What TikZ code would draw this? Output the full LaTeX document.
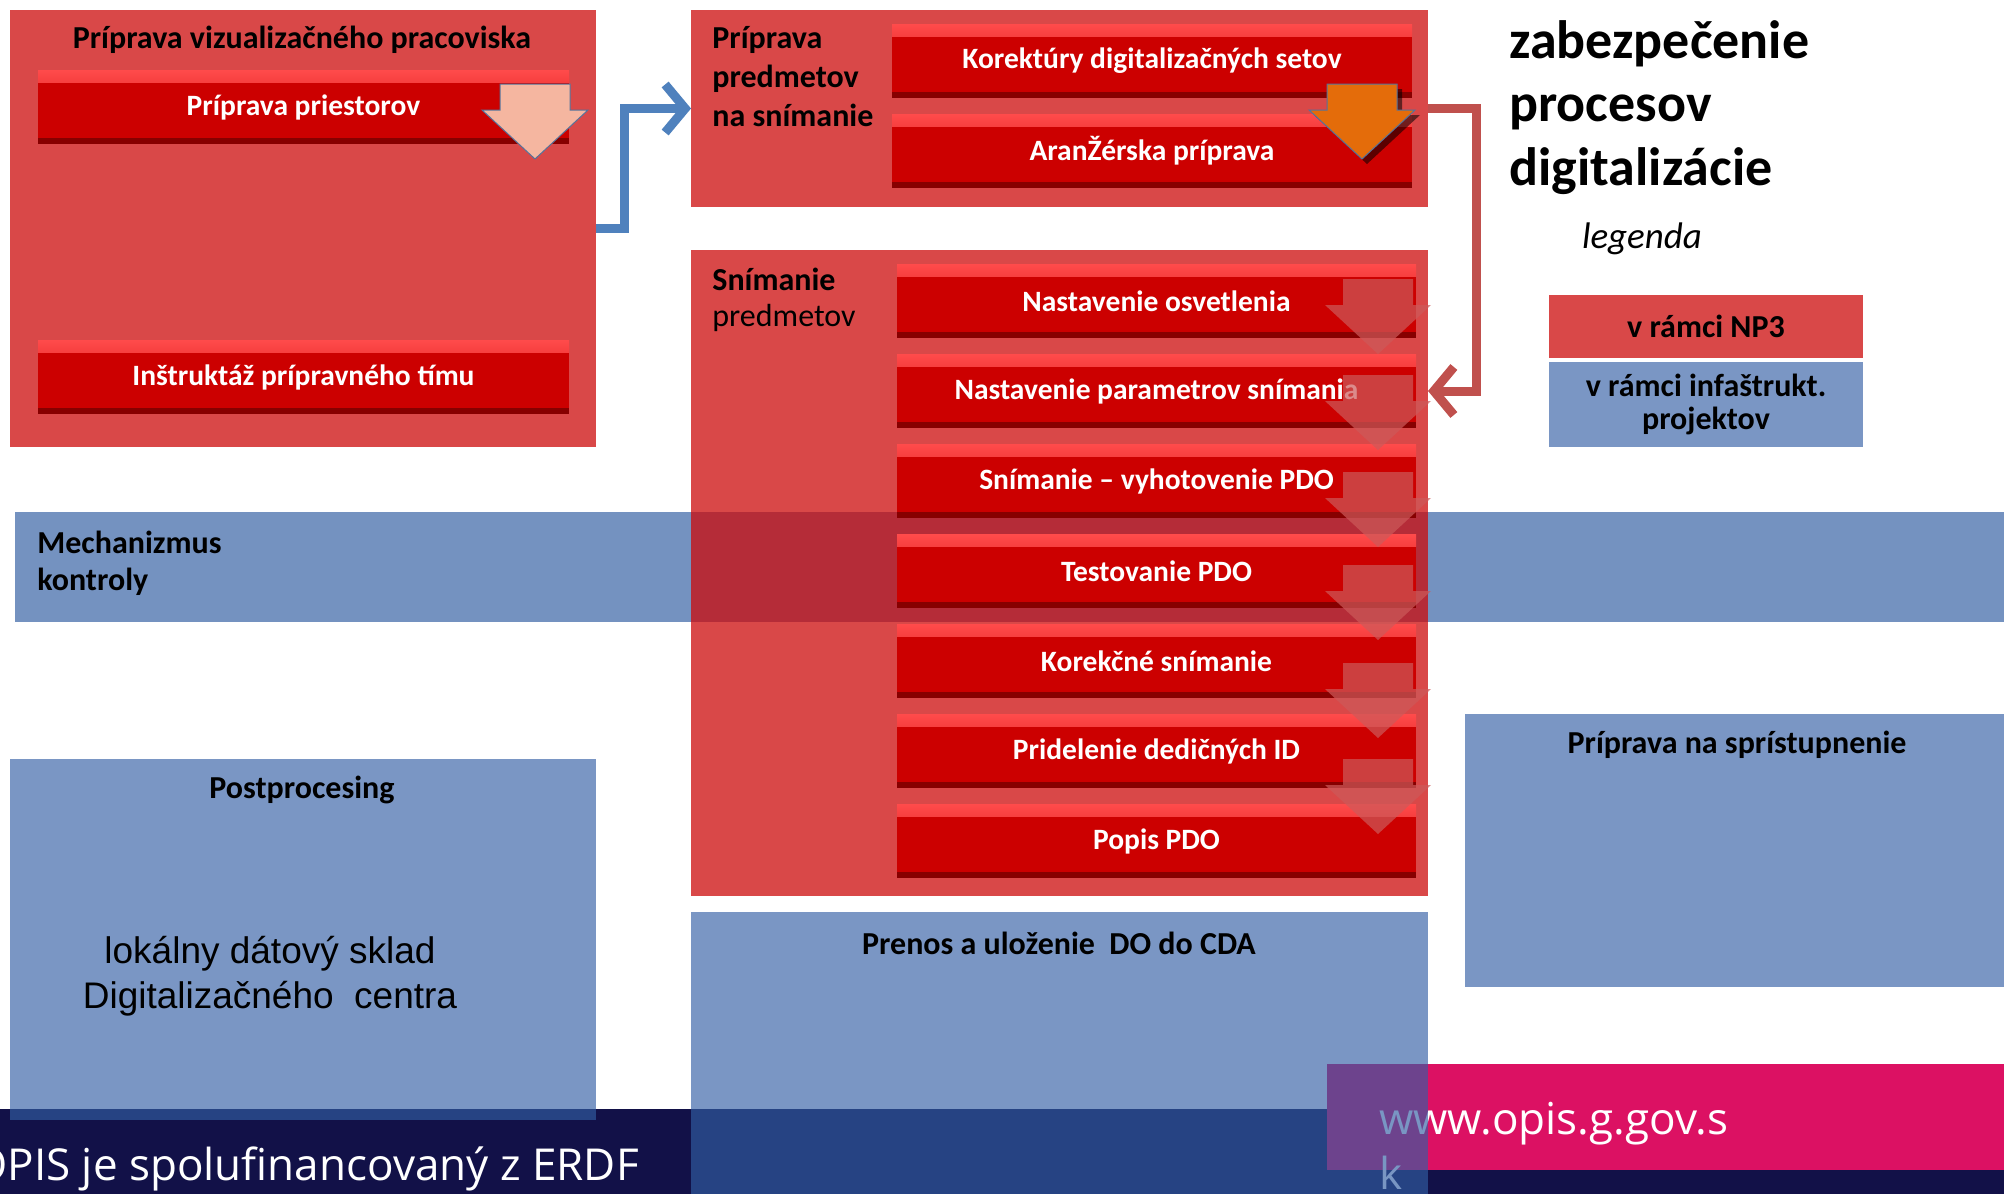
\documentclass[tikz,border=0pt]{standalone}
\usepackage{fontspec}
\setmainfont{Carlito}
\newfontfamily\arialfont{Liberation Sans}
\newfontfamily\footfont{Open Sans}
\usetikzlibrary{positioning,arrows.meta}

\definecolor{panelred}{RGB}{204,11,11}
\definecolor{panelblue}{RGB}{50,94,164}
\definecolor{bandblue}{RGB}{116,146,192}
\definecolor{barred}{RGB}{204,0,0}
\definecolor{barlight}{RGB}{255,75,75}
\definecolor{bardark}{RGB}{135,0,0}
\definecolor{stepred}{RGB}{205,90,90}
\definecolor{peach}{RGB}{245,182,160}
\definecolor{orangefill}{RGB}{228,108,10}
\definecolor{arrowedge}{RGB}{85,115,155}
\definecolor{linkblue}{RGB}{79,129,189}
\definecolor{linkred}{RGB}{192,80,77}
\definecolor{footnavy}{RGB}{18,17,72}
\definecolor{webpink}{RGB}{220,17,99}

\tikzset{
  redpanel/.style={fill=panelred, fill opacity=0.75, text opacity=1, inner sep=0pt, outer sep=0pt, anchor=north west},
  bluepanel/.style={fill=panelblue, fill opacity=0.65, text opacity=1, inner sep=0pt, outer sep=0pt, anchor=north west},
  taskbar/.style={fill=barred, text=white, font=\fontsize{14.75}{17}\selectfont\bfseries,
    minimum height=37pt, inner sep=0pt, outer sep=0pt,
    path picture={
      \shade[top color=barlight, bottom color=barred] (path picture bounding box.north west) rectangle ([yshift=-6pt]path picture bounding box.north east);
      \fill[bardark] (path picture bounding box.south west) rectangle ([yshift=3pt]path picture bounding box.south east);
    }},
  paneltitle/.style={font=\fontsize{16}{19.5}\selectfont\bfseries, inner sep=0pt},
  dnarrow/.pic={\path[pic actions] (-35,0) -- (35,0) -- (35,26) -- (53,26) -- (0,75) -- (-53,26) -- (-35,26) -- cycle;},
  scanarrow/.style={fill=stepred, fill opacity=0.7},
  bluelink/.style={draw=linkblue, line width=4.5pt, -{Straight Barb[length=10pt, width=24pt]}},
  redlink/.style={draw=linkred, line width=4.5pt, -{Straight Barb[length=10pt, width=24pt]}},
  foottext/.style={font=\footfont\fontsize{22}{27.5}\selectfont, text=white, inner sep=0pt}
}

\begin{document}
\begin{tikzpicture}[x=0.5pt, y=-0.5pt]
\useasboundingbox (0,0) rectangle (2004,1194);

\node[anchor=north west, fill=bandblue, minimum width=994.5pt, minimum height=55pt, inner sep=0pt] (ctrlband) at (15,512) {};
\node[paneltitle, anchor=north west, align=left, font=\fontsize{16}{18.5}\selectfont\bfseries] (ctrltitle) at (37,531) {Mechanizmus\\kontroly};

\node[redpanel, minimum width=293pt, minimum height=218.5pt] (vizbox) at (10,10) {};
\node[redpanel, minimum width=368.5pt, minimum height=98.5pt] (prepbox) at (691,10) {};
\node[redpanel, minimum width=368.5pt, minimum height=323pt] (scanbox) at (691,250) {};

\node[paneltitle] (viztitle) at (302,40) {Príprava vizualizačného pracoviska};
\node[paneltitle, anchor=north west, align=left] (preptitle) at (712,26) {Príprava\\predmetov\\na snímanie};
\node[paneltitle, anchor=north west, align=left, font=\fontsize{16}{18}\selectfont] (scantitle) at (712,268) {\textbf{Snímanie}\\predmetov};

\node[taskbar, minimum width=265.5pt] (roombar) at (303.5,107) {Príprava priestorov};
\node[taskbar, minimum width=265.5pt] (teambar) at (303.5,377) {Inštruktáž prípravného tímu};
\node[taskbar, minimum width=260pt] (proofbar) at (1152,61) {Korektúry digitalizačných setov};
\node[taskbar, minimum width=260pt] (arrangebar) at (1152,151) {AranŽérska príprava};

\node[taskbar, minimum width=259.5pt] (scanbar1) at (1156.5,301) {Nastavenie osvetlenia};
\node[taskbar, minimum width=259.5pt, below=8pt of scanbar1] (scanbar2) {Nastavenie parametrov snímania};
\node[taskbar, minimum width=259.5pt, below=8pt of scanbar2] (scanbar3) {Snímanie -- vyhotovenie PDO};
\node[taskbar, minimum width=259.5pt, below=8pt of scanbar3] (scanbar4) {Testovanie PDO};
\node[taskbar, minimum width=259.5pt, below=8pt of scanbar4] (scanbar5) {Korekčné snímanie};
\node[taskbar, minimum width=259.5pt, below=8pt of scanbar5] (scanbar6) {Pridelenie dedičných ID};
\node[taskbar, minimum width=259.5pt, below=8pt of scanbar6] (scanbar7) {Popis PDO};

\pic[fill=peach, draw=arrowedge, line width=0.5pt] at (535,84) {dnarrow};
\pic[fill=black, fill opacity=0.55] at (1367,89) {dnarrow};
\pic[fill=orangefill, draw=arrowedge, line width=0.5pt] at (1362,84) {dnarrow};

\pic[scanarrow] at (1378,279) {dnarrow};
\pic[scanarrow] at (1378,375) {dnarrow};
\pic[scanarrow] at (1378,472) {dnarrow};
\pic[scanarrow] at (1378,565) {dnarrow};
\pic[scanarrow] at (1378,663) {dnarrow};
\pic[scanarrow] at (1378,759) {dnarrow};

\draw[bluelink] (vizbox.east) -- ++(28,0) |- (prepbox.west);
\draw[redlink] (prepbox.east) -- ++(48,0) |- (scanbar2 -| scanbox.east);

\node[anchor=north west, font=\fontsize{27}{31.75}\selectfont\bfseries, align=left, inner sep=0pt] (heading) at (1509,20) {zabezpečenie\\procesov\\digitalizácie};
\node[font=\fontsize{18.5}{22}\selectfont\itshape, inner sep=0pt] (legendtitle) at (1642,239) {legenda};
\node[redpanel, minimum width=157pt, minimum height=31.5pt, paneltitle] (legendnp) at (1549,295) {v rámci NP3};
\node[bluepanel, minimum width=157pt, minimum height=42.5pt, paneltitle, align=center, font=\fontsize{16}{16.5}\selectfont\bfseries] (legendinfra) at (1549,362) {v rámci infaštrukt.\\projektov};

\node[anchor=north west, fill=footnavy, minimum width=1002pt, minimum height=42.5pt, inner sep=0pt] (footer) at (0,1109) {};
\node[anchor=north west, fill=webpink, minimum width=338.5pt, minimum height=53pt, inner sep=0pt] (webpanel) at (1327,1064) {};
\node[foottext, anchor=north west, align=left] (weburl) at (1379,1102) {www.opis.g.gov.s\\k};

\node[bluepanel, minimum width=293pt, minimum height=180.5pt] (postbox) at (10,759) {};
\node[bluepanel, minimum width=368.5pt, minimum height=141pt] (transbox) at (691,912) {};
\node[bluepanel, minimum width=269.5pt, minimum height=136.5pt] (accessbox) at (1465,714) {};

\node[paneltitle] (posttitle) at (302,790) {Postprocesing};
\node[anchor=north, align=center, font=\arialfont\fontsize{18.5}{22.5}\selectfont, inner sep=0pt] (postnote) at (270,936) {lokálny dátový sklad\\Digitalizačného\ \ centra};
\node[paneltitle] (transtitle) at (1059,943) {Prenos a uloženie\ \ DO do CDA};
\node[paneltitle] (accesstitle) at (1737,745) {Príprava na sprístupnenie};

\node[foottext, anchor=base west] (cofund) at (-27,1180) {OPIS je spolufinancovaný z ERDF};
\end{tikzpicture}
\end{document}
